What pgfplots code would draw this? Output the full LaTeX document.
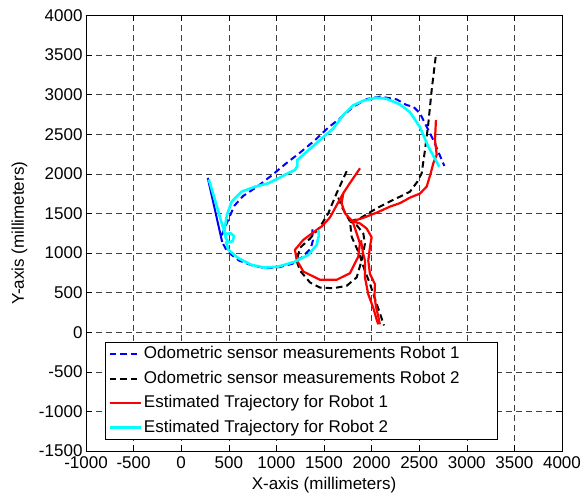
\documentclass[border=0pt]{standalone}
\usepackage{fontspec}
\setmainfont{Liberation Sans}
\usepackage{pgfplots}
\pgfplotsset{compat=1.18}
\definecolor{mblue}{rgb}{0,0,1}
\definecolor{mred}{rgb}{1,0,0}
\definecolor{mcyan}{rgb}{0,1,1}
\newcommand{\fs}{\fontsize{17bp}{20bp}\selectfont}
\begin{document}
\begin{tikzpicture}
\begin{axis}[
  scale only axis, width=476bp, height=435.5bp,
  xmin=-1000, xmax=4000, ymin=-1500, ymax=4000,
  xtick={-1000,-500,...,4000}, ytick={-1500,-1000,...,4000},
  xticklabels={-1000,-500,0,500,1000,1500,2000,2500,3000,3500,4000},
  yticklabels={-1500,-1000,-500,0,500,1000,1500,2000,2500,3000,3500,4000},
  tick align=inside, major tick length=6bp,
  tick style={black, line width=0.6bp},
  axis line style={black, line width=0.8bp},
  grid=major, grid style={black!75, dash pattern=on 6bp off 4bp, line width=0.6bp},
  tick label style={font=\fs},
  xticklabel style={yshift=-2bp},
  xlabel={X-axis (millimeters)}, ylabel={Y-axis (millimeters)},
  every axis x label/.style={at={(rel axis cs:0.5,0)}, anchor=base, yshift=-38bp, font=\fs},
  every axis y label/.style={at={(rel axis cs:0,0.5)}, xshift=-62bp, rotate=90, anchor=base, font=\fs},
  legend cell align=left,
  legend style={at={(0.0399,0.0253)}, anchor=south west, font=\fs, draw=black, line width=0.8bp,
    fill=white, inner xsep=3bp, inner ysep=2bp, row sep=4.5bp,
    nodes={inner sep=2bp, text height=12.5bp, text depth=3.5bp}},
  legend image code/.code={\draw[#1] (0bp,0bp) -- (31bp,0bp);},
  odo/.style={line width=2bp, dash pattern=on 6.5bp off 4bp},
  est/.style={line width=2.2bp},
]
% Odometric sensor measurements Robot 1 (blue dashed)
\addplot[mblue, odo] coordinates {
(1377,1300) (1384,1162) (1360,1055) (1272,949) (1167,864) (1026,821) (886,809) (746,843) (605,906) (482,1021) (430,1140) (279,1949) (430,1140) (420,1200)
(448,1289) (500,1438) (560,1600) (650,1720) (800,1840) (950,1980) (1100,2130) (1250,2270) (1400,2420) (1550,2590) (1668,2700) (1808,2848) (1950,2945) (2088,2975) (2263,2941) (2368,2869) (2438,2848) (2508,2765) (2543,2680) (2648,2428) (2764,2100)
};
\addlegendentry{\makebox[348bp][l]{Odometric sensor measurements Robot 1}}
% Odometric sensor measurements Robot 2 (black dashed)
\addplot[black, odo] coordinates {
(2673,3477) (2631,3059) (2596,2639) (2561,2302) (2526,2008) (2480,1900) (2403,1775) (2298,1712) (2227,1672) (2053,1565) (1878,1438) (1773,1400)
(1790,1207) (1870,990) (1925,790) (1980,620) (2050,370) (2090,230) (2130,85)
};
\addlegendentry{Odometric sensor measurements Robot 2}
\addplot[black, odo, forget plot] coordinates {
(1738,2034) (1680,1880) (1633,1757) (1545,1502) (1458,1331) (1353,1182) (1248,1067) (1213,900) (1248,777) (1353,628) (1458,564) (1598,556) (1738,586) (1843,692) (1895,905) (1930,1118) (1913,1246) (1843,1353) (1773,1400)
};
\addplot[black, odo, forget plot] coordinates {
(1650,1700) (1686,1586) (1773,1400)
};
% Estimated Trajectory for Robot 1 (red)
\addplot[mred, est] coordinates {
(2676,2680) (2666,2430) (2684,2240) (2648,2134) (2621,2008) (2579,1840) (2508,1751) (2403,1700) (2298,1630) (2200,1590) (2053,1510) (1913,1445) (1800,1400)
(1878,1374) (1948,1310) (2000,1200) (1983,1076) (1965,905) (1983,735) (2035,607) (2030,450) (2050,300) (2070,200) (2087,100)
};
\addlegendentry{Estimated Trajectory for Robot 1}
\addplot[mred, est, forget plot] coordinates {
(1878,2070) (1773,1885) (1703,1757) (1640,1620) (1563,1450) (1480,1340) (1423,1292) (1283,1167) (1195,1041) (1213,914) (1283,766) (1458,662) (1633,662) (1773,746) (1860,955) (1877,1123) (1843,1250) (1800,1400)
};
\addplot[mred, est, forget plot] coordinates {
(1703,1757) (1685,1629) (1720,1502) (1800,1400)
};
\addplot[mred, est, forget plot] coordinates {
(1888,1161) (1910,1000) (1930,905) (1930,692) (1965,479) (2017,309) (2053,160) (2070,100)
};
% Estimated Trajectory for Robot 2 (cyan)
\addplot[mcyan, est, line width=2.6bp] coordinates {
(290,1930) (360,1650) (420,1400) (460,1240) (520,1250) (555,1215) (540,1150) (495,1135) (468,1190) (455,1300) (480,1480) (530,1649) (635,1775) (775,1838) (915,1881) (1020,1944) (1125,2010) (1195,2049) (1220,2100) (1220,2176) (1315,2276) (1458,2428) (1595,2571) (1703,2744) (1806,2865) (1913,2924) (2051,2962) (2156,2949) (2296,2878) (2402,2781) (2507,2592) (2596,2343) (2711,2091)
};
\addlegendentry{Estimated Trajectory for Robot 2}
\addplot[mcyan, est, line width=2.6bp, forget plot] coordinates {
(470,1150) (495,1041) (600,935) (740,850) (880,816) (1020,829) (1195,891) (1335,976) (1423,1102) (1447,1228) (1440,1292)
};
\end{axis}
\pgfresetboundingbox
\path[use as bounding box] ([xshift=-86bp,yshift=-43bp]current axis.south west) rectangle ([xshift=21bp,yshift=15.5bp]current axis.north east);
\end{tikzpicture}
\end{document}
